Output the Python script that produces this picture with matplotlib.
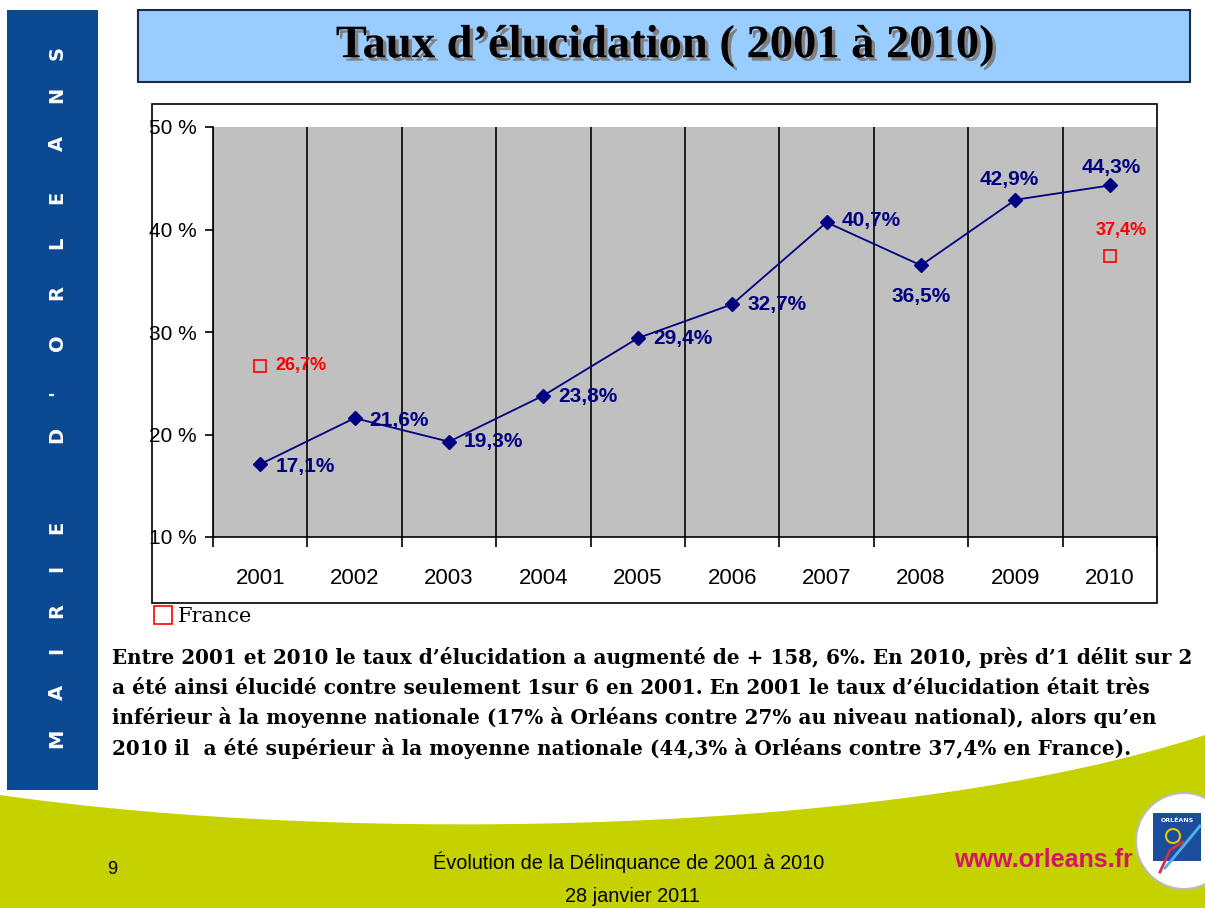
import numpy as np
import matplotlib
matplotlib.use('Agg')
import matplotlib.pyplot as plt
import matplotlib.patheffects as pe
from matplotlib import font_manager
from matplotlib.patches import Rectangle, Circle, PathPatch
from matplotlib.path import Path

# Données
years = ['2001', '2002', '2003', '2004', '2005', '2006', '2007', '2008', '2009', '2010']
orleans = [17.1, 21.6, 19.3, 23.8, 29.4, 32.7, 40.7, 36.5, 42.9, 44.3]
orleans_txt = ['17,1%', '21,6%', '19,3%', '23,8%', '29,4%', '32,7%', '40,7%', '36,5%', '42,9%', '44,3%']
france_years = ['2001', '2010']
france = [26.7, 37.4]
france_txt = ['26,7%', '37,4%']
yticks = [10, 20, 30, 40, 50]

W, H = 1205, 908

names = {f.name for f in font_manager.fontManager.ttflist}
narrow = 'Liberation Sans Narrow' if 'Liberation Sans Narrow' in names else 'Liberation Sans'
serif = 'Liberation Serif'

fig = plt.figure(figsize=(W / 100, H / 100), dpi=100)
fig.patch.set_facecolor('white')

# === fond de la diapositive (coordonnées en pixels) ===
bg = fig.add_axes([0, 0, 1, 1], zorder=0)
bg.set_xlim(0, W)
bg.set_ylim(H, 0)
bg.axis('off')

# bande bleue verticale
bg.add_patch(Rectangle((7, 10), 91, 780, fc='#0B4A93', ec='none'))
band_letters = list("MAIRIED'ORLEANS")
band_y = [738, 692, 650, 610, 568, 527, 435, 393, 343, 292, 243, 197, 143, 95, 53]
for ch, yy in zip(band_letters, band_y):
    bg.text(57, yy, ch, color='white', fontsize=14, fontweight='bold',
            family='DejaVu Sans', rotation=90, ha='center', va='center')

# vague verte en bas
verts = [(0, 795), (350, 845), (900, 835), (1205, 735), (1205, 908), (0, 908), (0, 795)]
codes = [Path.MOVETO, Path.CURVE4, Path.CURVE4, Path.CURVE4, Path.LINETO, Path.LINETO, Path.CLOSEPOLY]
bg.add_patch(PathPatch(Path(verts, codes), fc='#C6D200', ec='none'))

# titre
bg.add_patch(Rectangle((138, 10), 1052, 72, fc='#99CCFF', ec='#1C2B4A', lw=1.5))
title = "Taux d\u2019élucidation ( 2001 à 2010)"
bg.text(665, 46, title, color='black', fontsize=33.5, fontweight='bold', family=serif,
        ha='center', va='center',
        path_effects=[pe.withSimplePatchShadow(offset=(2.5, -2.5), shadow_rgbFace='#808080', alpha=1)])

# cadre du graphique
bg.add_patch(Rectangle((152, 104), 1005, 499, fc='white', ec='black', lw=1.2))

# texte de commentaire
lines = [
    "Entre 2001 et 2010 le taux d\u2019élucidation a augmenté de + 158, 6%. En 2010, près d\u20191 délit sur 2",
    "a été ainsi élucidé contre seulement 1sur 6 en 2001. En 2001 le taux d\u2019élucidation était très",
    "inférieur à la moyenne nationale (17% à Orléans contre 27% au niveau national), alors qu\u2019en",
    "2010 il  a été supérieur à la moyenne nationale (44,3% à Orléans contre 37,4% en France).",
]
for i, s in enumerate(lines):
    bg.text(112, 657 + i * 30.5, s, fontsize=14.4, fontweight='bold', family='DejaVu Serif',
            ha='left', va='center', color='black')

# pied de page
bg.text(112, 870, '9', fontsize=13, family='Liberation Sans', ha='center', va='center')
bg.text(629, 862, 'Évolution de la Délinquance de 2001 à 2010', fontsize=14.3, family=narrow,
        ha='center', va='center')
bg.text(632, 897, '28 janvier 2011', fontsize=14.3, family=narrow, ha='center', va='center')
bg.text(1043, 860, 'www.orleans.fr', fontsize=18, fontweight='bold', family=narrow,
        color='#D4146A', ha='center', va='center')

# logo
bg.add_patch(Circle((1184, 841), 48, fc='white', ec='#BBBBBB', lw=1.5))
bg.add_patch(Rectangle((1153, 813), 48, 48, fc='#1A4E9C', ec='none'))
bg.text(1177, 820, 'ORLÉANS', fontsize=4.5, color='white', fontweight='bold',
        ha='center', va='center')
bg.add_patch(Circle((1173, 836), 7, fc='none', ec='#E8C400', lw=1.5))
bg.plot([1165, 1200], [868, 826], color='#4FB3E8', lw=2)
bg.plot([1160, 1170, 1183], [872, 850, 842], color='#D0304A', lw=2)

# === graphique ===
ax = fig.add_axes([213 / W, 1 - 537 / H, 944 / W, 410 / H], zorder=1)
ax.set_facecolor('#C0C0C0')
x = np.arange(len(years))
ax.set_xlim(-0.5, len(years) - 0.5)
ax.set_ylim(10, 50)

ax.set_xticks(x)
ax.set_xticklabels(years, family=narrow, fontsize=16)
ax.set_xticks(np.arange(-0.5, len(years)), minor=True)
ax.tick_params(axis='x', which='major', length=0, pad=22)
ax.tick_params(axis='x', which='minor', length=7, width=1.2, direction='out')
ax.grid(which='minor', axis='x', color='black', lw=1.2)

ax.set_yticks(yticks)
ax.set_yticklabels([f'{v} %' for v in yticks], family=narrow, fontsize=15)
ax.tick_params(axis='y', length=6, width=1.2, direction='out', pad=6)

for side in ['top', 'right']:
    ax.spines[side].set_visible(False)
for side in ['left', 'bottom']:
    ax.spines[side].set_linewidth(1.2)

ax.plot(x, orleans, color='#000080', lw=1.3, marker='D', ms=7, zorder=3, clip_on=False)
fx = [years.index(y) for y in france_years]
fr_line, = ax.plot(fx, france, ls='none', marker='s', ms=9, mfc='none', mec='#FF0000',
                   mew=1.2, zorder=3)

# étiquettes
offs = [(15, -2), (15, -2), (15, 0), (15, -1), (15, 0), (15, 0), (15, 2), (0, -31), (-6, 20), (1, 18)]
aligns = ['left'] * 7 + ['center'] * 3
for xi, v, t, o, ha in zip(x, orleans, orleans_txt, offs, aligns):
    ax.annotate(t, (xi, v), xytext=o, textcoords='offset pixels', ha=ha, va='center',
                color='#000080', fontsize=15, fontweight='bold', family=narrow, zorder=4)
fr_offs = [(15, 0), (11, 26)]
fr_align = ['left', 'center']
for xi, v, t, o, ha in zip(fx, france, france_txt, fr_offs, fr_align):
    ax.annotate(t, (xi, v), xytext=o, textcoords='offset pixels', ha=ha, va='center',
                color='#FF0000', fontsize=13, fontweight='bold', family=narrow, zorder=4)

ax.legend([fr_line], ['France'], loc='center left', bbox_to_anchor=(155 / W, 1 - 617 / H),
          bbox_transform=fig.transFigure, frameon=False, handlelength=0.8,
          handletextpad=0.3, borderpad=0, borderaxespad=0, markerscale=1.4,
          prop={'family': 'DejaVu Serif', 'size': 15})

fig.savefig('out.png', dpi=100)
